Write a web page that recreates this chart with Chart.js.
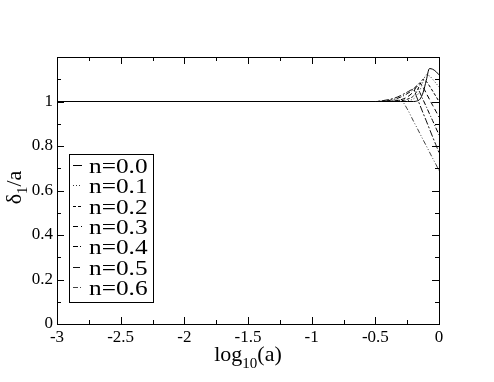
<!DOCTYPE html>
<html>
<head>
<meta charset="utf-8">
<script src="https://cdn.jsdelivr.net/npm/chart.js@4/dist/chart.umd.min.js"></script>
<style>
  html, body { margin: 0; padding: 0; background: #fff; }
  #wrap { width: 494px; height: 382px; }
</style>
</head>
<body>
<div id="wrap"><canvas id="c" width="494" height="382"></canvas></div>
<script>
// log10(a) sample positions
const xs = [-3, -0.6, -0.5, -0.45, -0.4, -0.35, -0.3, -0.25, -0.2, -0.175, -0.15, -0.125, -0.1, -0.075, -0.05, -0.025, 0];

// delta_1 / a for each n
const n00 = [1, 1, 1, 1, 1, 1, 1, 1, 1, 1.002, 1.01, 1.04, 1.095, 1.148, 1.145, 1.135, 1.12];
const n01 = [1, 1, 1, 1, 1, 1, 1, 1.003, 1.012, 1.025, 1.05, 1.09, 1.12, 1.115, 1.1, 1.083, 1.065];
const n02 = [1, 1, 1, 1, 1, 1, 1.003, 1.01, 1.025, 1.045, 1.075, 1.1, 1.09, 1.07, 1.047, 1.024, 1.0];
const n03 = [1, 1, 1, 1, 1, 1.002, 1.008, 1.02, 1.045, 1.068, 1.083, 1.064, 1.037, 1.01, 0.983, 0.957, 0.93];
const n04 = [1, 1, 1, 1.001, 1.004, 1.01, 1.02, 1.035, 1.055, 1.07, 1.04, 1.008, 0.977, 0.945, 0.914, 0.882, 0.85];
const n05 = [1, 1, 1, 1.003, 1.008, 1.015, 1.027, 1.042, 1.055, 1.02, 0.984, 0.948, 0.913, 0.877, 0.841, 0.806, 0.77];
const n06 = [1, 1, 1, 1.001, 1.003, 1.006, 1.005, 0.967, 0.911, 0.884, 0.856, 0.828, 0.801, 0.773, 0.745, 0.718, 0.69];

const seriesLabels = ['n=0.0', 'n=0.1', 'n=0.2', 'n=0.3', 'n=0.4', 'n=0.5', 'n=0.6'];
const seriesValues = [n00, n01, n02, n03, n04, n05, n06];
const dashes = [[], [1, 2], [3, 2], [5, 3], [5, 2, 1, 2], [7, 2, 2, 2], [5, 2, 1, 2, 1, 2]];
const colors = ['#000', '#333', '#000', '#000', '#000', '#111', '#444'];

const xMajor = [-3, -2.5, -2, -1.5, -1, -0.5, 0];
const yMajor = [0, 0.2, 0.4, 0.6, 0.8, 1, 1.2];

const serif = '"Liberation Serif", "Times New Roman", Times, serif';

// frame, inward ticks, legend box and axis titles
const decor = {
  id: 'decor',
  afterDraw(chart) {
    const ctx = chart.ctx;
    const a = chart.chartArea;
    const sx = chart.scales.x, sy = chart.scales.y;
    ctx.save();
    ctx.strokeStyle = '#000';
    ctx.lineWidth = 1;
    ctx.setLineDash([]);
    ctx.strokeRect(Math.round(a.left) + 0.5, Math.round(a.top) + 0.5,
      Math.round(a.right - a.left), Math.round(a.bottom - a.top));

    ctx.beginPath();
    for (let i = 0; i < xMajor.length; i++) {
      const v = xMajor[i];
      const px = Math.round(sx.getPixelForValue(v)) + 0.5;
      ctx.moveTo(px, a.bottom); ctx.lineTo(px, a.bottom - 7);
      ctx.moveTo(px, a.top); ctx.lineTo(px, a.top + 7);
      if (i < xMajor.length - 1) {
        const pm = Math.round(sx.getPixelForValue(v + 0.25)) + 0.5;
        ctx.moveTo(pm, a.bottom); ctx.lineTo(pm, a.bottom - 4);
        ctx.moveTo(pm, a.top); ctx.lineTo(pm, a.top + 4);
      }
    }
    for (let i = 0; i < yMajor.length; i++) {
      const v = yMajor[i];
      const py = Math.round(sy.getPixelForValue(v)) + 0.5;
      ctx.moveTo(a.left, py); ctx.lineTo(a.left + 7, py);
      ctx.moveTo(a.right, py); ctx.lineTo(a.right - 7, py);
      if (i < yMajor.length - 1) {
        const pm = Math.round(sy.getPixelForValue(v + 0.1)) + 0.5;
        ctx.moveTo(a.left, pm); ctx.lineTo(a.left + 4, pm);
        ctx.moveTo(a.right, pm); ctx.lineTo(a.right - 4, pm);
      }
    }
    ctx.stroke();

    // legend
    const lx = 69, ly = 154, lw = 84, lh = 148, row = 20.3;
    ctx.fillStyle = '#fff';
    ctx.fillRect(lx, ly, lw, lh);
    ctx.strokeRect(lx + 0.5, ly + 0.5, lw, lh);
    chart.data.datasets.forEach((ds, i) => {
      const cy = Math.round(ly + 11 + i * row) + 0.5;
      ctx.strokeStyle = ds.borderColor;
      ctx.setLineDash(ds.borderDash);
      ctx.beginPath();
      ctx.moveTo(lx + 4, cy); ctx.lineTo(lx + 13, cy);
      ctx.stroke();
      ctx.save();
      ctx.translate(lx + 20, cy + 7);
      ctx.scale(1.15, 1);
      ctx.fillStyle = '#000';
      ctx.font = '22px ' + serif;
      ctx.textAlign = 'left';
      ctx.textBaseline = 'alphabetic';
      ctx.fillText(ds.label, 0, 0);
      ctx.restore();
    });
    ctx.setLineDash([]);

    // axis titles with subscripts
    ctx.fillStyle = '#000';
    ctx.textBaseline = 'alphabetic';
    ctx.textAlign = 'left';
    const big = '22px ' + serif, small = '15px ' + serif;
    ctx.font = big; const w1 = ctx.measureText('log').width;
    ctx.font = small; const w2 = ctx.measureText('10').width;
    ctx.font = big; const w3 = ctx.measureText('(a)').width;
    let x0 = (a.left + a.right) / 2 - (w1 + w2 + w3) / 2;
    const by = 361;
    ctx.font = big; ctx.fillText('log', x0, by);
    ctx.font = small; ctx.fillText('10', x0 + w1, by + 7);
    ctx.font = big; ctx.fillText('(a)', x0 + w1 + w2, by);

    ctx.save();
    ctx.translate(21, (a.top + a.bottom) / 2 - 3);
    ctx.rotate(-Math.PI / 2);
    ctx.font = big; const d1 = ctx.measureText('δ').width;
    ctx.font = small; const d2 = ctx.measureText('1').width;
    ctx.font = big; const d3 = ctx.measureText('/a').width;
    x0 = -(d1 + d2 + d3) / 2;
    ctx.font = big; ctx.fillText('δ', x0, 0);
    ctx.font = small; ctx.fillText('1', x0 + d1, 6);
    ctx.font = big; ctx.fillText('/a', x0 + d1 + d2, 0);
    ctx.restore();
    ctx.restore();
  }
};

new Chart(document.getElementById('c'), {
  type: 'line',
  data: {
    datasets: seriesValues.map((vals, i) => ({
      label: seriesLabels[i],
      data: xs.map((x, j) => ({ x: x, y: vals[j] })),
      borderColor: colors[i],
      borderWidth: 1,
      borderDash: dashes[i],
      pointRadius: 0,
      fill: false,
      cubicInterpolationMode: 'monotone'
    }))
  },
  options: {
    responsive: false,
    animation: false,
    layout: { padding: { top: 57, right: 55, left: 0, bottom: 0 } },
    plugins: { legend: { display: false }, tooltip: { enabled: false } },
    scales: {
      x: {
        type: 'linear',
        min: -3, max: 0,
        grid: { display: false, drawTicks: false },
        border: { display: false },
        ticks: {
          stepSize: 0.5, padding: 3, color: '#000', maxRotation: 0, autoSkip: false,
          font: { family: serif, size: 17 },
          callback: v => String(Math.round(v * 10) / 10)
        },
        afterFit: s => { s.height = 58; }
      },
      y: {
        min: 0, max: 1.2,
        grid: { display: false, drawTicks: false },
        border: { display: false },
        ticks: {
          stepSize: 0.2, padding: 4, color: '#000',
          font: { family: serif, size: 17 },
          callback: v => (v > 1.1 ? '' : String(Math.round(v * 10) / 10))
        },
        afterFit: s => { s.width = 57; }
      }
    }
  },
  plugins: [decor]
});
</script>
</body>
</html>
